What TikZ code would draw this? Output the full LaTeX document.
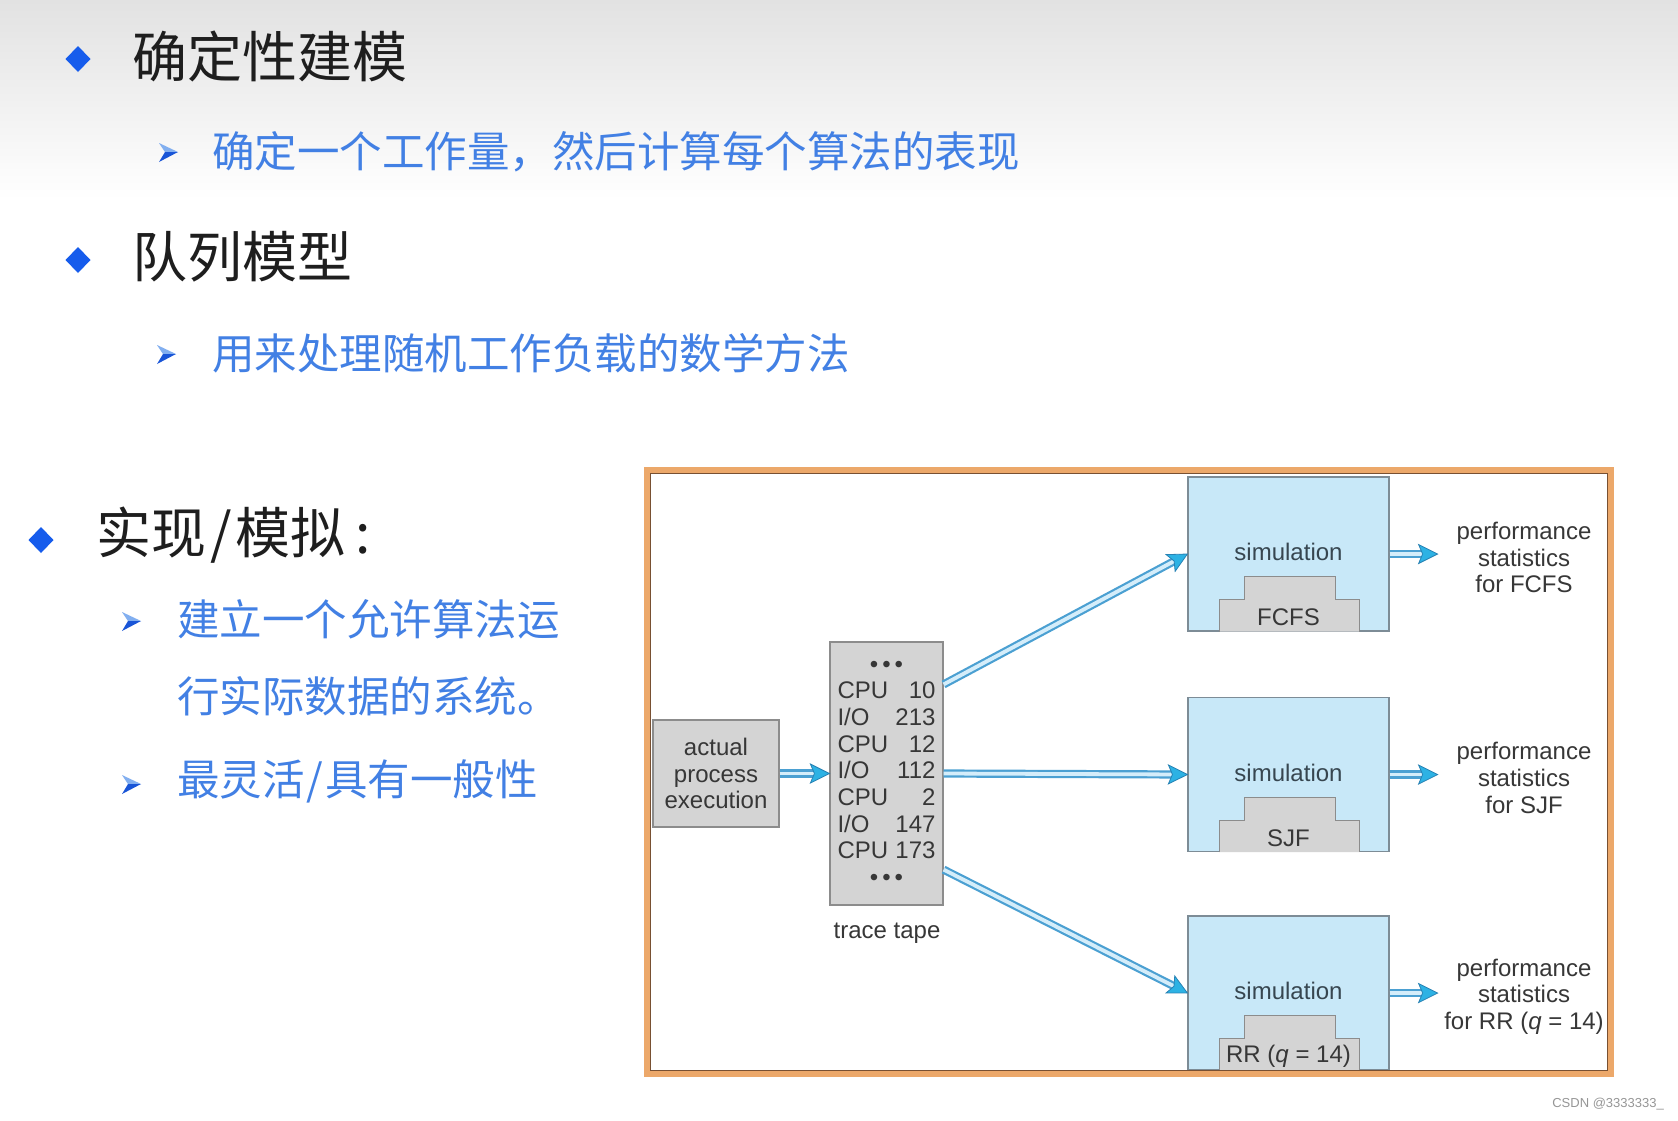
\documentclass[tikz,border=0pt]{standalone}
\usepackage{fontspec}
\setmainfont{Liberation Sans}
\newfontfamily\cjk{Noto Sans CJK SC}
\usetikzlibrary{arrows.meta,calc,decorations.markings}
\definecolor{bgtop}{RGB}{226,226,226}
\definecolor{titlecol}{RGB}{30,30,30}
\definecolor{subblue}{RGB}{66,128,228}
\definecolor{bulletblue}{RGB}{22,92,236}
\definecolor{arrowlight}{RGB}{130,175,240}
\definecolor{arrowdark}{RGB}{25,85,215}
\definecolor{framecol}{RGB}{236,168,106}
\definecolor{framedark}{RGB}{120,80,50}
\definecolor{grayfill}{RGB}{212,212,212}
\definecolor{grayline}{RGB}{140,140,140}
\definecolor{simfill}{RGB}{200,232,248}
\definecolor{simline}{RGB}{125,140,150}
\definecolor{diagtext}{RGB}{55,55,55}
\definecolor{simtext}{RGB}{55,70,80}
\definecolor{flowout}{RGB}{75,160,210}
\definecolor{flowin}{RGB}{212,237,250}
\definecolor{flowtip}{RGB}{45,178,228}
\definecolor{flowtipline}{RGB}{40,130,180}
\definecolor{wmark}{RGB}{150,150,150}
\newcommand\mydiamond[2]{\fill[bulletblue,shift={(#1,#2)}] (-12.5,0) -- (0,-13) -- (12.5,0) -- (0,13) -- cycle;}
\newcommand\myarrowbullet[2]{%
  \fill[arrowlight,shift={(#1,#2)}] (-9,-9) -- (10,0) -- (-3,0) -- cycle;
  \fill[arrowdark,shift={(#1,#2)}] (-3,0) -- (10,0) -- (-9,10) -- cycle;}
\newcommand\mysteps[3]{%
  \filldraw[fill=grayfill,draw=grayline,line width=1.2pt]
    ($(#1.south west)+(32,0)$) -- ($(#1.south west)+(32,-32)$) -- ($(#1.south west)+(57,-32)$)
    -- ($(#1.south west)+(57,-55)$) -- ($(#1.south east)+(-54,-55)$) -- ($(#1.south east)+(-54,-32)$)
    -- ($(#1.south east)+(-30,-32)$) -- ($(#1.south east)+(-30,0)$);
  \node[simlabel] (#1lab) at ($(#1.north)+(0,76)$) {simulation};
  \node[steplabel] (#1alg) at ($(#1.south)+(0,-14)$) {#2};
  \node[perf] (#1perf) at ($(#1.center)+(235.5,3.5)$) {performance\\statistics\\#3};}
\begin{document}
\begin{tikzpicture}[x=1pt,y=-1pt,
  title/.style={font=\cjk\fontsize{55}{60}\selectfont,text=titlecol,inner sep=0,anchor=west},
  sub/.style={font=\cjk\fontsize{42.5}{46}\selectfont,text=subblue,inner sep=0,anchor=west},
  graybox/.style={draw=grayline,fill=grayfill,line width=1.2pt,inner sep=0,font=\fontsize{24}{26.7}\selectfont,text=diagtext},
  simbox/.style={draw=simline,fill=simfill,line width=1.2pt,minimum width=201pt,minimum height=154pt,inner sep=0},
  simlabel/.style={font=\fontsize{24}{26.7}\selectfont,text=simtext,inner sep=0},
  steplabel/.style={font=\fontsize{24}{26.7}\selectfont,text=diagtext,inner sep=0},
  perf/.style={font=\fontsize{24}{26.7}\selectfont,text=diagtext,inner sep=0,align=center},
  flow/.style={draw=flowout,line width=2.2pt,double=flowin,double distance=3.8pt,shorten >=15pt,
    postaction={decorate,decoration={markings,mark=at position 1 with
      {\filldraw[fill=flowtip,draw=flowtipline,line width=0.8pt,double=none] (-19,-9.5) -- (0,0) -- (-19,9.5) -- (-15,0) -- cycle;}}}},
]
\useasboundingbox (0,0) rectangle (1678,1120);
\fill[white] (0,0) rectangle (1678,1120);
\shade[top color=bgtop,bottom color=white] (0,0) rectangle (1678,200);

% text column
\mydiamond{78}{59}
\node[title] (t1) at (132,56) {确定性建模};
\myarrowbullet{168}{152}
\node[sub] (s1) at (212,152) {确定一个工作量，然后计算每个算法的表现};
\mydiamond{78}{260}
\node[title] (t2) at (132,257) {队列模型};
\myarrowbullet{166}{354}
\node[sub] (s2) at (212,353) {用来处理随机工作负载的数学方法};
\mydiamond{41}{540}
\node[title] (t3) at (96,535) {实现\hspace{4pt}/\hspace{4pt}模拟\hspace{10pt}:};
\myarrowbullet{131}{621}
\node[sub] (s3) at (177,619) {建立一个允许算法运};
\node[sub] (s3b) at (177,696) {行实际数据的系统。};
\myarrowbullet{131}{784}
\node[sub] (s4) at (177,781) {最灵活\hspace{2pt}/\hspace{2pt}具有一般性};

% diagram
\node[graybox,minimum width=126pt,minimum height=107pt,align=center] (actual) at (716,773.5) {actual\\process\\execution};
\node[graybox,minimum width=113pt,minimum height=263pt] (tape) at (886.5,773.5)
  {\begin{tabular*}{98pt}{@{}l@{\extracolsep{\fill}}r@{}}
   \multicolumn{2}{c}{•\,•\,•}\\
   CPU & 10\\ I/O & 213\\ CPU & 12\\ I/O & 112\\ CPU & 2\\ I/O & 147\\ CPU & 173\\
   \multicolumn{2}{c}{•\,•\,•}
   \end{tabular*}};
\node[steplabel] (tapelab) at (887,933) {trace tape};

\node[simbox] (simA) at (1288.5,554) {};
\node[simbox] (simB) at (1288.5,774.5) {};
\node[simbox] (simC) at (1288.5,993) {};
\mysteps{simA}{FCFS}{for FCFS}
\mysteps{simB}{SJF}{for SJF}
\mysteps{simC}{RR (\textit{q} = 14)}{for RR (\textit{q} = 14)}

\coordinate (tA) at ($(tape.north east)+(0,43)$);
\coordinate (tC) at ($(tape.south east)+(0,-36)$);
\coordinate (oA) at ($(simA.east)+(48,0)$);
\coordinate (oB) at ($(simB.east)+(48,0)$);
\coordinate (oC) at ($(simC.east)+(48,0)$);

\draw[flow] (actual.east) -- (actual.east -| tape.west);
\draw[flow] (tA) -- (simA.west);
\draw[flow] (tape.east) -- (simB.west);
\draw[flow] (tC) -- (simC.west);
\draw[flow] (simA.east) -- (oA);
\draw[flow] (simB.east) -- (oB);
\draw[flow] (simC.east) -- (oC);

% frame
\draw[framecol,line width=6pt] (647,470) rectangle (1611,1074);
\draw[framedark,line width=1pt] (650.5,473.5) rectangle (1607.5,1070.5);

\node[font=\fontsize{13}{15}\selectfont,text=wmark,anchor=east,inner sep=0] (wm) at (1664,1104) {CSDN @3333333\_};
\end{tikzpicture}
\end{document}
